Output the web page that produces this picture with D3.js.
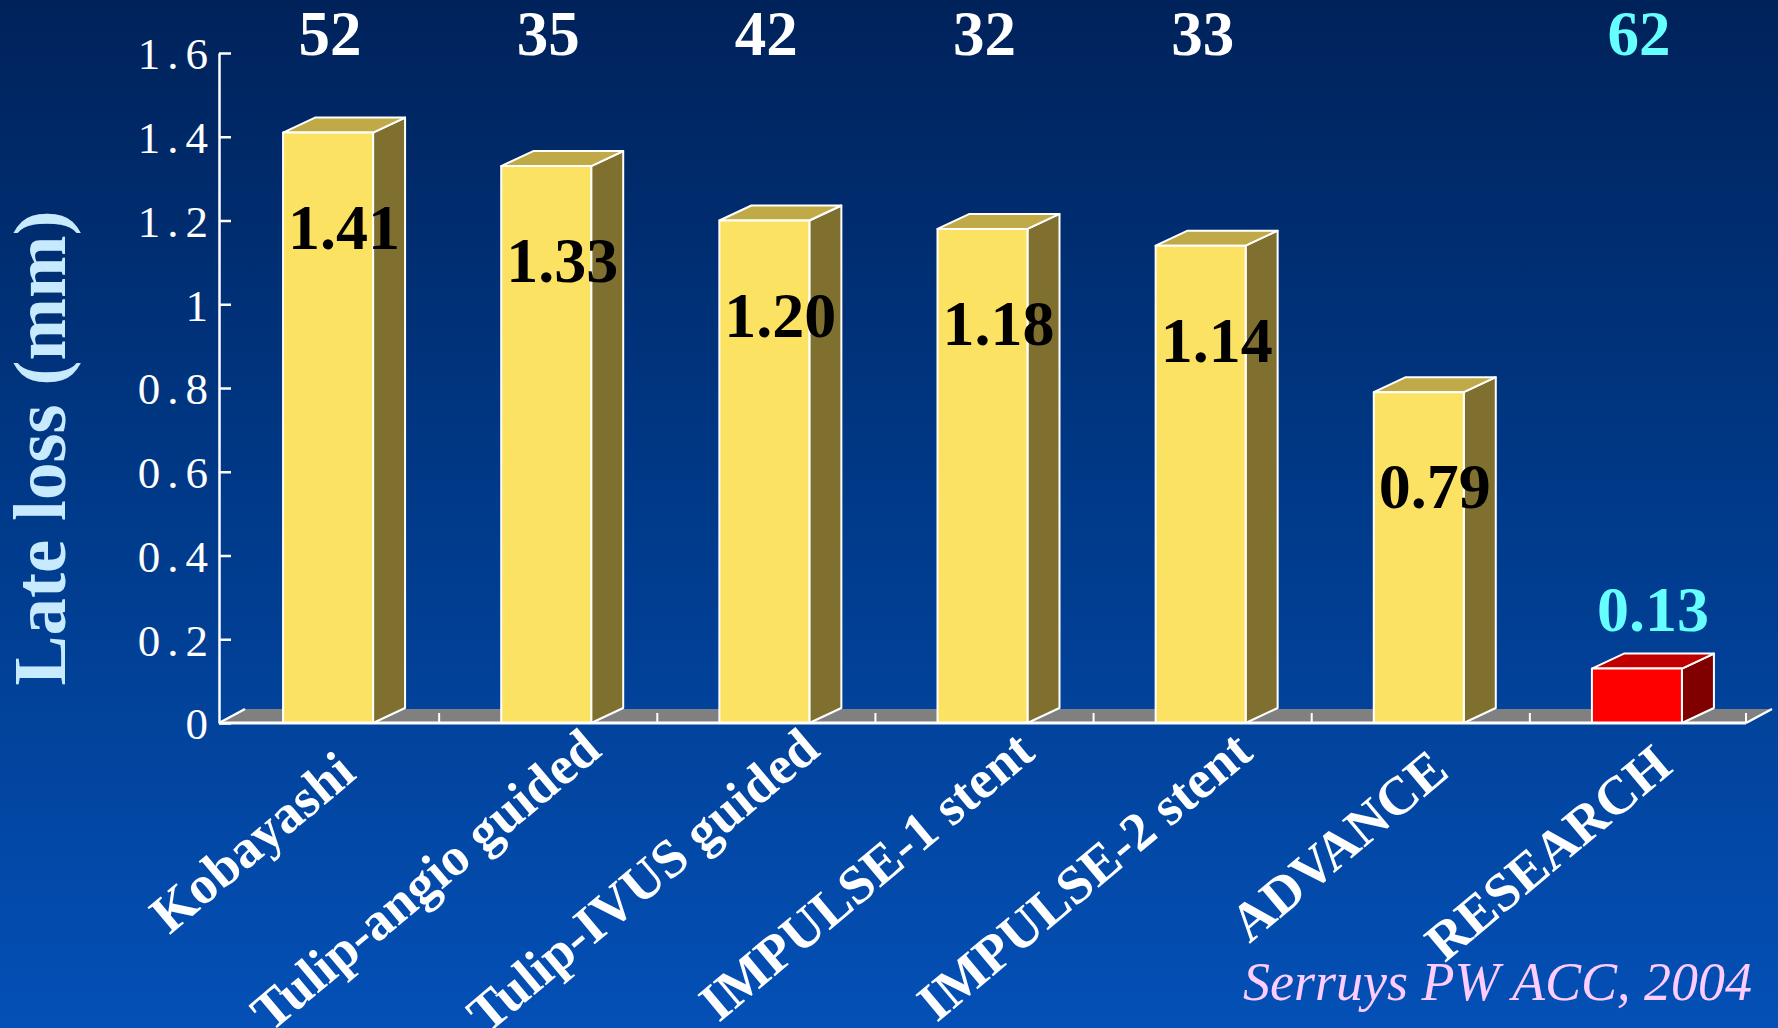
<!DOCTYPE html>
<meta charset="utf-8">
<style>
  body { margin: 0; background: #01245e; }
  svg { display: block; }
  .axis text { font-family: "Liberation Serif", serif; }
</style>
<svg width="1778" height="1028"></svg>
<script src="https://cdn.jsdelivr.net/npm/d3@7"></script>
<script>

// late loss per study (mm)
var studies = ["Kobayashi", "Tulip-angio guided", "Tulip-IVUS guided", "IMPULSE-1 stent",
               "IMPULSE-2 stent", "ADVANCE", "RESEARCH"];
var lateLoss = [1.41, 1.33, 1.20, 1.18, 1.14, 0.79, 0.13];
var patients = ["52", "35", "42", "32", "33", "", "62"];
var yTicks = [0, 0.2, 0.4, 0.6, 0.8, 1, 1.2, 1.4, 1.6];
var highlight = "RESEARCH";

var svg = d3.select("svg"),
    plotLeft = 219, plotRight = 1746, plotTop = 53, plotBottom = 723,
    depth = {dx: 32, dy: -15},      // bar depth
    floor = {dx: 26, dy: -14};      // floor depth

var defs = svg.append("defs");
var grad = defs.append("linearGradient").attr("id", "bg")
    .attr("x1", 0).attr("y1", 0).attr("x2", 0).attr("y2", 1);
grad.append("stop").attr("offset", "0%").attr("stop-color", "#00225a");
grad.append("stop").attr("offset", "50%").attr("stop-color", "#003a8a");
grad.append("stop").attr("offset", "100%").attr("stop-color", "#0450b6");

svg.append("rect").attr("width", 1778).attr("height", 1028).attr("fill", "url(#bg)");

var x = d3.scaleBand().domain(studies).range([plotLeft, plotRight]);
var y = d3.scaleLinear().domain([0, 1.6]).range([plotBottom, plotTop]);
var barW = 90;

// floor
svg.append("path")
    .attr("d", "M" + plotLeft + "," + plotBottom + "L" + plotRight + "," + plotBottom +
               "L" + (plotRight + floor.dx) + "," + (plotBottom + floor.dy) +
               "L" + (plotLeft + floor.dx) + "," + (plotBottom + floor.dy) + "Z")
    .attr("fill", "#808080");
svg.append("path")
    .attr("d", "M" + plotLeft + "," + plotBottom + "L" + (plotLeft + floor.dx) + "," + (plotBottom + floor.dy) +
               "M" + plotRight + "," + plotBottom + "L" + (plotRight + floor.dx) + "," + (plotBottom + floor.dy))
    .attr("stroke", "#fff").attr("stroke-width", 2.5).attr("fill", "none");

// floor ticks between categories
svg.append("g").selectAll("line")
    .data(studies.slice(1).concat(["end"]))
    .enter().append("line")
      .attr("x1", function(d) { return d === "end" ? plotRight : x(d) + 2; })
      .attr("x2", function(d) { return d === "end" ? plotRight : x(d) + 2; })
      .attr("y1", plotBottom - 10).attr("y2", plotBottom)
      .attr("stroke", "#fff").attr("stroke-width", 2);

var data = studies.map(function(s, i) { return {name: s, v: lateLoss[i], n: patients[i]}; });

var bars = svg.append("g").selectAll("g")
  .data(data)
  .enter().append("g")
    .attr("stroke", "#fff").attr("stroke-width", 2).attr("stroke-linejoin", "round");

function x0(d) { return x(d.name) + x.bandwidth() / 2 - barW / 2; }

// side
bars.append("path")
    .attr("fill", function(d) { return d.name === highlight ? "#800000" : "#807030"; })
    .attr("d", function(d) {
      var a = x0(d) + barW, t = y(d.v);
      return "M" + a + "," + plotBottom + "L" + (a + depth.dx) + "," + (plotBottom + depth.dy) +
             "L" + (a + depth.dx) + "," + (t + depth.dy) + "L" + a + "," + t + "Z";
    });
// top
bars.append("path")
    .attr("fill", function(d) { return d.name === highlight ? "#c00000" : "#c0aa48"; })
    .attr("d", function(d) {
      var a = x0(d), t = y(d.v);
      return "M" + a + "," + t + "L" + (a + depth.dx) + "," + (t + depth.dy) +
             "L" + (a + barW + depth.dx) + "," + (t + depth.dy) + "L" + (a + barW) + "," + t + "Z";
    });
// front
bars.append("rect")
    .attr("fill", function(d) { return d.name === highlight ? "#ff0000" : "#fce263"; })
    .attr("x", x0)
    .attr("y", function(d) { return y(d.v); })
    .attr("width", barW)
    .attr("height", function(d) { return plotBottom - y(d.v); });

// front edge of the floor
svg.append("line")
    .attr("x1", plotLeft).attr("x2", plotRight).attr("y1", plotBottom).attr("y2", plotBottom)
    .attr("stroke", "#fff").attr("stroke-width", 3);

// y axis
var yAxis = svg.append("g")
    .attr("class", "axis")
    .attr("transform", "translate(" + plotLeft + ",0)")
    .call(d3.axisLeft(y).tickValues(yTicks).tickSizeInner(-12).tickSizeOuter(0).tickPadding(11)
          .tickFormat(function(d) { return String(+d.toFixed(1)); }));
yAxis.select(".domain").attr("stroke", "#fff").attr("stroke-width", 2.5);
yAxis.selectAll(".tick line").attr("stroke", "#fff").attr("stroke-width", 2.5);
yAxis.selectAll(".tick text")
    .attr("fill", "#fff").attr("font-size", 45).attr("letter-spacing", "7px")
    .attr("dx", 7).attr("dy", "0.35em");

// axis title
svg.append("text")
    .attr("transform", "translate(65,448) rotate(-90)")
    .attr("text-anchor", "middle")
    .attr("font-family", "Liberation Serif, serif")
    .attr("font-weight", "bold")
    .attr("font-size", 75)
    .attr("fill", "#c8eaff")
    .text("Late loss (mm)");

var fmt = d3.format(".2f");

// value labels
svg.append("g").selectAll("text")
  .data(data)
  .enter().append("text")
    .attr("x", function(d) { return x(d.name) + x.bandwidth() / 2 + 16; })
    .attr("y", function(d) { return d.name === highlight ? y(d.v) - 38 : y(d.v) + 116; })
    .attr("text-anchor", "middle")
    .attr("font-family", "Liberation Serif, serif")
    .attr("font-weight", "bold")
    .attr("font-size", 64)
    .attr("fill", function(d) { return d.name === highlight ? "#66ffff" : "#000"; })
    .text(function(d) { return fmt(d.v); });

// number of patients
svg.append("g").selectAll("text")
  .data(data)
  .enter().append("text")
    .attr("x", function(d) { return x(d.name) + x.bandwidth() / 2 + 2; })
    .attr("y", 55)
    .attr("text-anchor", "middle")
    .attr("font-family", "Liberation Serif, serif")
    .attr("font-weight", "bold")
    .attr("font-size", 63)
    .attr("fill", function(d) { return d.name === highlight ? "#66ffff" : "#fff"; })
    .text(function(d) { return d.n; });

// category labels, slanted; longer names reach a little further up the slope
var catLabels = svg.append("g").selectAll("text")
  .data(studies)
  .enter().append("text")
    .attr("transform", function(d) {
      return "translate(" + (x(d) + x.bandwidth() / 2 - 6) + ",807) rotate(-40)";
    })
    .attr("text-anchor", "end")
    .attr("font-family", "Liberation Serif, serif")
    .attr("font-weight", "bold")
    .attr("font-size", 54)
    .attr("fill", "#fff")
    .text(function(d) { return d; });
catLabels.attr("x", function() { return 0.19 * this.getComputedTextLength(); });

// source
svg.append("text")
    .attr("x", 1752).attr("y", 1000)
    .attr("text-anchor", "end")
    .attr("font-family", "Liberation Serif, serif")
    .attr("font-style", "italic")
    .attr("font-size", 54)
    .attr("fill", "#ffccff")
    .text("Serruys PW ACC, 2004");

</script>
